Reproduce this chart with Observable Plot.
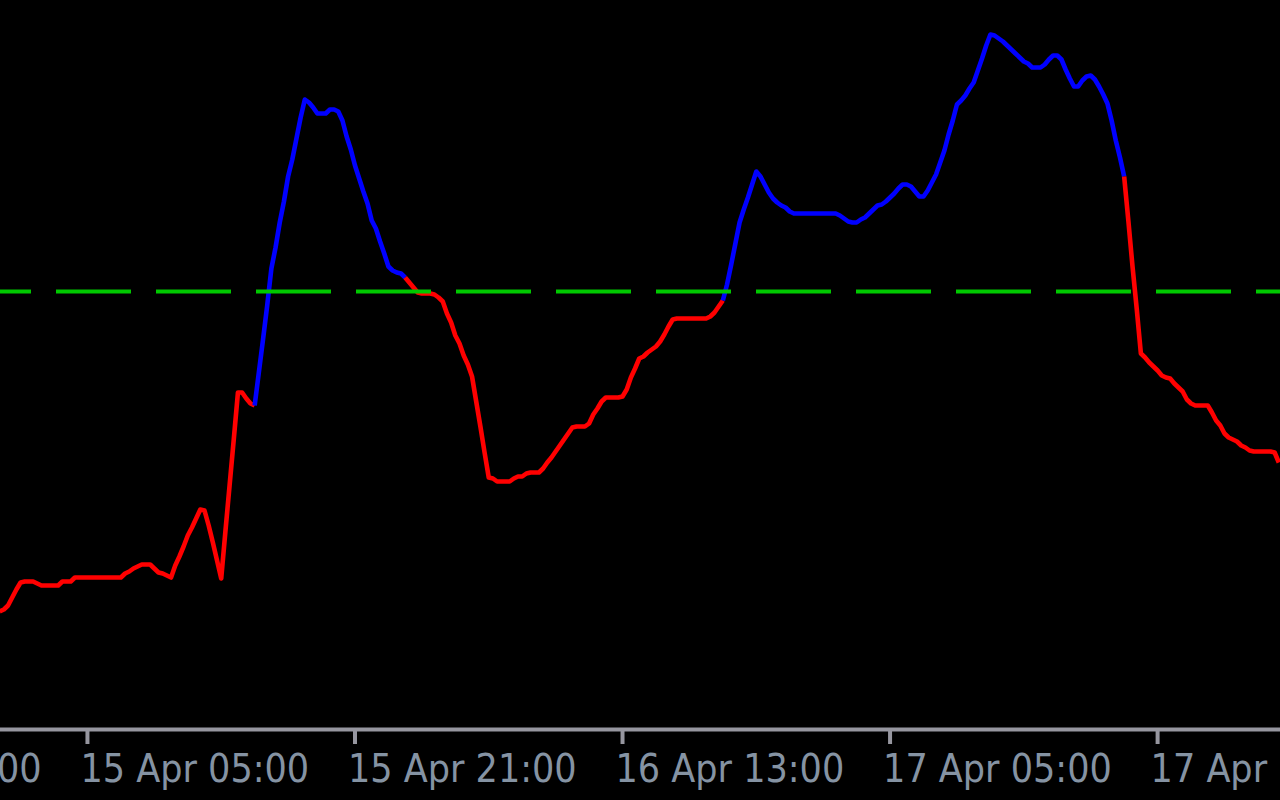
<!DOCTYPE html>
<html>
<head>
<meta charset="utf-8">
<script src="https://cdn.jsdelivr.net/npm/d3@7"></script>
<script src="https://cdn.jsdelivr.net/npm/@observablehq/plot@0.6"></script>
<style>
  html, body { margin: 0; padding: 0; background: #000; overflow: hidden; }
  #chart svg { display: block; }
</style>
</head>
<body>
<div id="chart"></div>
<script>
// ---- Data: indicator value per 15-minute bar ----
const apr14 = [-32.0]; // starts 14 Apr 23:45
const apr15 = [ // starts 15 Apr 00:00
  -31.8, -31.4, -30.6, -29.8, -29.1, -29.0, -29.0, -29.0, -29.2, -29.4, -29.4, -29.4, -29.4, -29.4, -29.0, -29.0,
  -29.0, -28.6, -28.6, -28.6, -28.6, -28.6, -28.6, -28.6, -28.6, -28.6, -28.6, -28.6, -28.6, -28.2, -28.0, -27.7,
  -27.5, -27.3, -27.3, -27.3, -27.7, -28.1, -28.2, -28.4, -28.6, -27.4, -26.5, -25.5, -24.4, -23.6, -22.7, -21.8,
  -21.9, -23.4, -25.1, -26.9, -28.7, -24.0, -19.4, -14.8, -10.1, -10.1, -10.7, -11.2, -11.4, -8.1, -4.8, -1.4,
  2.3, 4.4, 6.9, 9.0, 11.5, 13.2, 15.3, 17.4, 19.2, 18.9, 18.4, 17.8, 17.8, 17.8, 18.2, 18.2,
  18.0, 17.1, 15.5, 14.2, 12.6, 11.3, 10.0, 8.8, 7.1, 6.3, 5.0, 3.8, 2.5, 2.1, 1.9, 1.8
];
const apr16 = [ // starts 16 Apr 00:00
  1.4, 0.9, 0.4, -0.1, -0.2, -0.2, -0.2, -0.3, -0.6, -1.0, -2.2, -3.1, -4.4, -5.2, -6.4, -7.3,
  -8.5, -11.0, -13.5, -16.1, -18.6, -18.7, -19.0, -19.0, -19.0, -19.0, -18.7, -18.5, -18.5, -18.2, -18.1, -18.1,
  -18.1, -17.7, -17.1, -16.6, -16.0, -15.4, -14.8, -14.2, -13.6, -13.5, -13.5, -13.5, -13.2, -12.3, -11.7, -11.0,
  -10.6, -10.6, -10.6, -10.6, -10.5, -9.8, -8.6, -7.7, -6.7, -6.5, -6.1, -5.8, -5.5, -5.0, -4.3, -3.5,
  -2.8, -2.7, -2.7, -2.7, -2.7, -2.7, -2.7, -2.7, -2.7, -2.5, -2.1, -1.5, -0.9, 0.7, 2.7, 4.8,
  6.9, 8.2, 9.4, 10.7, 12.0, 11.5, 10.7, 9.9, 9.3, 8.9, 8.6, 8.4, 8.0, 7.8, 7.8, 7.8
];
const apr17 = [ // starts 17 Apr 00:00
  7.8, 7.8, 7.8, 7.8, 7.8, 7.8, 7.8, 7.8, 7.6, 7.3, 7.0, 6.9, 6.9, 7.2, 7.4, 7.8,
  8.2, 8.6, 8.7, 9.0, 9.4, 9.8, 10.3, 10.7, 10.7, 10.5, 10.0, 9.5, 9.5, 10.1, 10.9, 11.7,
  12.9, 14.1, 15.7, 17.1, 18.7, 19.1, 19.6, 20.3, 20.9, 22.1, 23.3, 24.6, 25.7, 25.6, 25.3, 25.0,
  24.6, 24.2, 23.8, 23.4, 23.0, 22.8, 22.4, 22.4, 22.4, 22.7, 23.2, 23.6, 23.6, 23.2, 22.2, 21.3,
  20.5, 20.5, 21.1, 21.5, 21.6, 21.2, 20.5, 19.7, 18.8, 17.1, 15.1, 13.4, 11.5, 7.1, 2.5, -1.7,
  -6.2, -6.6, -7.1, -7.5, -7.9, -8.4, -8.6, -8.7, -9.2, -9.6, -10.0, -10.8, -11.2, -11.4, -11.4, -11.4
];
const apr18 = [ // starts 18 Apr 00:00
  -11.4, -12.1, -12.9, -13.4, -14.2, -14.6, -14.8, -15.0, -15.4, -15.6, -15.9, -16.0, -16.0, -16.0, -16.0, -16.0,
  -16.1, -17.1
];
const dayStarts = ["2024-04-14T23:45Z", "2024-04-15T00:00Z", "2024-04-16T00:00Z", "2024-04-17T00:00Z", "2024-04-18T00:00Z"];
const dayValues = [apr14, apr15, apr16, apr17, apr18];
const barMinutes = 15;

// Periods where the indicator is in its "up" state (drawn blue)
const upFrom = ["2024-04-15T15:00Z", "2024-04-16T19:00Z"];
const upTo   = ["2024-04-16T00:00Z", "2024-04-17T19:00Z"];

const signalLevel = 0;   // dashed green level
const viewFrom = "2024-04-14T23:48Z";
const viewTo   = "2024-04-18T04:21Z";
const yDomain  = [-43.8, 29.1];

const tickTimes = ["2024-04-14T13:00Z", "2024-04-15T05:00Z", "2024-04-15T21:00Z",
                   "2024-04-16T13:00Z", "2024-04-17T05:00Z", "2024-04-17T21:00Z"];

// ---- Build tables ----
const points = dayValues.flatMap((vals, d) =>
  vals.map((v, i) => ({ time: new Date(+new Date(dayStarts[d]) + i * barMinutes * 60000), value: v })));

const fromD = upFrom.map(s => new Date(s)), toD = upTo.map(s => new Date(s));
const isUp = (a, b) => fromD.some((f, k) => a >= f && b <= toD[k]);
const rows = [];
let seg = -1, prevState = null;
for (let i = 0; i < points.length - 1; i++) {
  const up = isUp(points[i].time, points[i + 1].time);
  if (up !== prevState) { seg++; rows.push({ ...points[i], seg, up }); prevState = up; }
  rows.push({ ...points[i + 1], seg, up });
}

const tickDates = tickTimes.map(s => new Date(s));
const axisGray = "#96969f";
const labelColor = "#8593a3";
const fontFamily = '"Liberation Sans Narrow", "Arial Narrow", "DejaVu Sans Condensed", sans-serif';

const chart = Plot.plot({
  width: 1280,
  height: 800,
  marginTop: 0, marginRight: 0, marginBottom: 71, marginLeft: 0,
  style: { background: "#000", overflow: "hidden" },
  x: { type: "utc", domain: [new Date(viewFrom), new Date(viewTo)] },
  y: { domain: yDomain, axis: null },
  color: { type: "identity" },
  marks: [
    Plot.line(rows, {
      x: "time", y: "value", z: "seg",
      stroke: d => d.up ? "#0000ff" : "#ff0000",
      strokeWidth: 4.6, strokeLinejoin: "round", strokeLinecap: "butt"
    }),
    Plot.ruleY([signalLevel], {
      stroke: "#00c800", strokeWidth: 4, strokeDasharray: "75,25", strokeDashoffset: 44
    }),
    Plot.ruleY([yDomain[0]], { stroke: axisGray, strokeWidth: 4 }),
    // tick marks
    Plot.axisX(tickDates, {
      tickFormat: d3.utcFormat("%d %b %H:%M"),
      tickSize: 15, stroke: axisGray, strokeWidth: 4,
      fill: "none", label: null
    }),
    // tick labels, drawn to the right of each tick
    Plot.axisX(tickDates, {
      tickFormat: d3.utcFormat("%d %b %H:%M"),
      tickSize: 0, tickPadding: 25, stroke: "none",
      fill: labelColor, fontSize: 39, fontFamily,
      textAnchor: "start", dx: -7,
      label: null
    })
  ]
});
document.getElementById("chart").appendChild(chart);
</script>
</body>
</html>
